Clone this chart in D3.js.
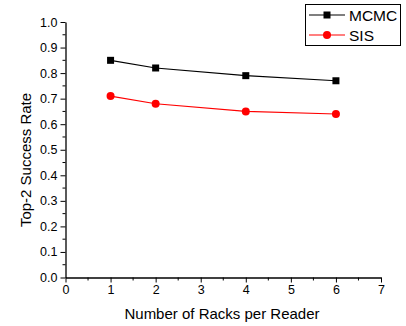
<!DOCTYPE html>
<html><head><meta charset="utf-8">
<script src="https://cdn.jsdelivr.net/npm/d3@7"></script>
<style>body{margin:0;background:#fff}svg{display:block;font-family:"Liberation Sans",Arial,sans-serif}</style>
</head><body>
<script>
const racks = [1, 2, 4, 6];
const mcmc = [0.85, 0.82, 0.79, 0.77];
const sis = [0.71, 0.68, 0.65, 0.64];
const xTicks = [0,1,2,3,4,5,6,7];
const yTicks = [0,0.1,0.2,0.3,0.4,0.5,0.6,0.7,0.8,0.9,1.0];
const seriesNames = ["MCMC", "SIS"];
const colors = ["#000000", "#ff0000"];

const W = 406, H = 326;
const svg = d3.select("body").append("svg").attr("width", W).attr("height", H);
const x = d3.scaleLinear().domain([0,7]).range([65.5, 381]);
const y = d3.scaleLinear().domain([0,1]).range([277.5, 22]);

const xMinor = d3.range(0.5, 7, 1);
const yMinor = d3.range(0.05, 1, 0.1);
svg.append("g").selectAll("line").data(xMinor).join("line")
  .attr("x1", d=>x(d)).attr("x2", d=>x(d)).attr("y1", y(0)).attr("y2", y(0)+3)
  .attr("stroke","#000");
svg.append("g").selectAll("line").data(yMinor).join("line")
  .attr("y1", d=>y(d)).attr("y2", d=>y(d)).attr("x1", x(0)).attr("x2", x(0)-3)
  .attr("stroke","#000");

const xAxis = svg.append("g").attr("transform", `translate(0,${y(0)})`)
  .call(d3.axisBottom(x).tickValues(xTicks).tickFormat(d3.format("d")).tickSizeInner(5).tickSizeOuter(0).tickPadding(3));
const yAxis = svg.append("g").attr("transform", `translate(${x(0)},0)`)
  .call(d3.axisLeft(y).tickValues(yTicks).tickFormat(d3.format(".1f")).tickSizeInner(5).tickSizeOuter(0).tickPadding(3));
[xAxis, yAxis].forEach(g => {
  g.selectAll("text").attr("font-size", 12.5).attr("fill", "#000").attr("font-family", "Liberation Sans, Arial, sans-serif");
  g.select(".domain").attr("stroke-width", 1.3);
});

svg.append("text").attr("x", 222).attr("y", 319).attr("text-anchor","middle")
  .attr("font-size", 15).text("Number of Racks per Reader");
svg.append("text").attr("transform", "translate(31,160) rotate(-90)").attr("text-anchor","middle")
  .attr("font-size", 15).text("Top-2 Success Rate");

const data = [mcmc, sis];
const line = d3.line().x((d,i)=>x(racks[i])).y(d=>y(d));
data.forEach((vals, k) => {
  svg.append("path").datum(vals).attr("d", line).attr("fill","none")
    .attr("stroke", colors[k]).attr("stroke-width", 1.2);
  const g = svg.append("g");
  if (k === 0) {
    g.selectAll("rect").data(vals).join("rect")
      .attr("x", (d,i)=>x(racks[i])-3.5).attr("y", d=>y(d)-3.5)
      .attr("width", 7).attr("height", 7).attr("fill", colors[k]);
  } else {
    g.selectAll("circle").data(vals).join("circle")
      .attr("cx", (d,i)=>x(racks[i])).attr("cy", d=>y(d)).attr("r", 4).attr("fill", colors[k]);
  }
});

const lg = svg.append("g");
lg.append("rect").attr("x", 305.5).attr("y", 4.5).attr("width", 95).attr("height", 41)
  .attr("fill","#fff").attr("stroke","#000").attr("stroke-width",1);
seriesNames.forEach((name, k) => {
  const cy = 15 + k*20;
  lg.append("line").attr("x1", 309).attr("x2", 345).attr("y1", cy).attr("y2", cy)
    .attr("stroke", colors[k]).attr("stroke-width", 1.2);
  if (k === 0) lg.append("rect").attr("x", 323.5).attr("y", cy-3.5).attr("width",7).attr("height",7).attr("fill", colors[k]);
  else lg.append("circle").attr("cx", 327).attr("cy", cy).attr("r", 4).attr("fill", colors[k]);
  lg.append("text").attr("x", 349).attr("y", cy+5.5).attr("font-size", 15.5).text(name);
});
</script>
</body></html>
